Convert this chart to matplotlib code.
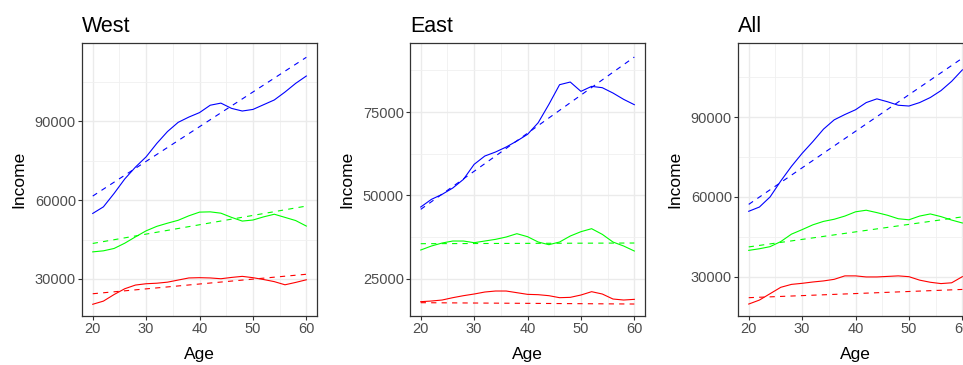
import numpy as np
import matplotlib
matplotlib.use("Agg")
import matplotlib.pyplot as plt
from matplotlib.ticker import MultipleLocator

plt.rcParams['font.family'] = ['Liberation Sans', 'DejaVu Sans']

ages = [20, 22, 24, 26, 28, 30, 32, 34, 36, 38, 40,
        42, 44, 46, 48, 50, 52, 54, 56, 58, 60]
fit_ages = [20, 60]

# West
west_blue = [54900, 57400, 62500, 68000, 72500, 76400, 81500, 86000, 89500, 91500, 93200,
             96000, 96800, 94800, 93800, 94400, 96200, 98000, 101000, 104300, 107100]
west_green = [40300, 40700, 41600, 43600, 46000, 48300, 50000, 51200, 52300, 54000, 55400,
              55500, 55000, 53400, 52000, 52400, 53600, 54600, 53400, 52200, 50100]
west_red = [20400, 21600, 24100, 26300, 27700, 28200, 28400, 28800, 29600, 30400, 30500,
            30400, 30100, 30600, 31000, 30500, 29800, 29000, 27800, 28700, 29700]
west_blue_fit = [61500, 114200]
west_green_fit = [43500, 57700]
west_red_fit = [24400, 31800]

# East
east_blue = [46500, 48800, 50300, 52200, 54800, 59300, 61800, 63000, 64500, 66300, 68300,
             71800, 77300, 83200, 84000, 81200, 82700, 82300, 80700, 78800, 77200]
east_green = [33600, 34800, 35700, 36300, 36300, 35800, 36300, 36800, 37500, 38500, 37600,
              36000, 35200, 36000, 37800, 39100, 40000, 38300, 36000, 34800, 33300]
east_red = [18100, 18300, 18600, 19300, 19900, 20400, 21000, 21300, 21300, 20800, 20300,
            20200, 19900, 19300, 19400, 20100, 21100, 20400, 18900, 18600, 18800]
east_blue_fit = [45800, 91500]
east_green_fit = [35500, 35700]
east_red_fit = [17800, 17400]

# All
all_blue = [54600, 56200, 60000, 66000, 71500, 76400, 80800, 85500, 89000, 91000, 92800,
            95500, 96900, 95800, 94500, 94200, 95500, 97400, 100000, 103500, 107800]
all_green = [39900, 40500, 41300, 43200, 46000, 47700, 49500, 50800, 51600, 52800, 54400,
             55000, 54100, 53100, 51800, 51400, 52800, 53600, 52600, 51300, 50200]
all_red = [19700, 21200, 23600, 26000, 27100, 27500, 28000, 28400, 29000, 30300, 30300,
           29900, 29900, 30100, 30300, 30000, 28700, 27900, 27400, 27700, 30000]
all_blue_fit = [57200, 112200]
all_green_fit = [41200, 52500]
all_red_fit = [22100, 25200]

panels = [
    ("West", [west_blue, west_green, west_red], [west_blue_fit, west_green_fit, west_red_fit],
     (15940, 119620), 30000, 0.0852),
    ("East", [east_blue, east_green, east_red], [east_blue_fit, east_green_fit, east_red_fit],
     (13800, 95700), 25000, 0.4258),
    ("All", [all_blue, all_green, all_red], [all_blue_fit, all_green_fit, all_red_fit],
     (15200, 117900), 30000, 0.7664),
]
colors = ["blue", "#00FF00", "red"]

fig = plt.figure(figsize=(9.63, 3.65), dpi=100)

for title, curves, fits, ylim, step, left in panels:
    ax = fig.add_axes([left, 0.1342, 0.2440, 0.7479])
    for vals, fit, c in zip(curves, fits, colors):
        ax.plot(ages, vals, color=c, lw=0.8)
        ax.plot(fit_ages, fit, color=c, lw=0.8, dashes=(4.7, 4.7))
    ax.set_xlim(18, 62)
    ax.set_ylim(*ylim)
    ax.xaxis.set_major_locator(MultipleLocator(10))
    ax.xaxis.set_minor_locator(MultipleLocator(5))
    ax.yaxis.set_major_locator(MultipleLocator(step))
    ax.yaxis.set_minor_locator(MultipleLocator(step / 2))
    ax.set_axisbelow(True)
    ax.grid(which='major', color='#EBEBEB', lw=1.0)
    ax.grid(which='minor', color='#F0F0F0', lw=0.6)
    for s in ax.spines.values():
        s.set_color('#333333')
        s.set_linewidth(0.9)
    ax.tick_params(which='major', length=2.6, width=0.8, color='#333333',
                   labelcolor='#4D4D4D', labelsize=10.5, pad=1.8)
    ax.tick_params(which='minor', length=0)
    ax.set_title(title, loc='left', fontsize=15.5, pad=8)
    ax.set_xlabel("Age", fontsize=12.5)
    ax.set_ylabel("Income", fontsize=12.5)
    ax.xaxis.set_label_coords(0.5, -0.115)
    ax.yaxis.set_label_coords(-0.235, 0.5)

# the right panel runs past the figure edge, as in the original export
fig.savefig("out.png", dpi=100)
